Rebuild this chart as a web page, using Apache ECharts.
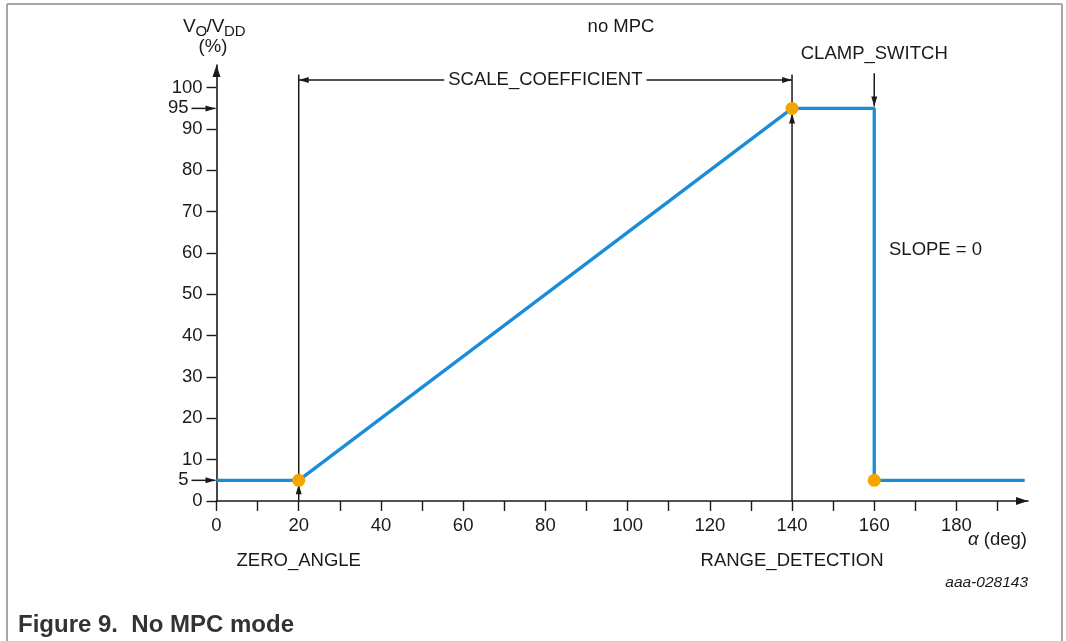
<!DOCTYPE html>
<html>
<head>
<meta charset="utf-8">
<script src="https://cdn.jsdelivr.net/npm/echarts@6/dist/echarts.min.js"></script>
<style>
  html, body { margin: 0; padding: 0; background: #fff; }
  #chart { width: 1066px; height: 641px; }
</style>
</head>
<body>
<div id="chart"></div>
<script>
// Output transfer curve in no-MPC mode: angle (deg) vs VO/VDD (%)
const angleDeg  = [0, 20, 140, 160, 160, 196.6];
const outputPct = [5, 5, 95, 95, 5, 5];

// Characteristic points (zero angle, range detection, clamp switch)
const markerAngle = [20, 140, 160];
const markerPct   = [5, 95, 5];

// Axis ticks and labels
const xTickValues  = [0, 10, 20, 30, 40, 50, 60, 70, 80, 90, 100, 110, 120, 130, 140, 150, 160, 170, 180, 190];
const xLabelValues = [0, 20, 40, 60, 80, 100, 120, 140, 160, 180];
const yTickValues  = [0, 10, 20, 30, 40, 50, 60, 70, 80, 90, 100];
const ySideValues  = [5, 95];

// Parameter annotations
const zeroAngle = 20;
const rangeDetection = 140;
const clampSwitch = 160;
const scaleMid = 80;
const bracketLevel = 101.9;
const guideTop = 103.2;

const FONT = '"Liberation Sans", Arial, Helvetica, sans-serif';
const INK = '#1a1a1a';
const BLUE = '#1a8cd8';
const ORANGE = '#f5a500';

const chart = echarts.init(document.getElementById('chart'), null, { renderer: 'canvas' });

const linePoints = angleDeg.map((a, i) => [a, outputPct[i]]);
const markerPoints = markerAngle.map((a, i) => [a, markerPct[i]]);

chart.setOption({
  animation: false,
  backgroundColor: '#fff',
  textStyle: { fontFamily: FONT },
  grid: { left: 216.5, right: 38, top: 65, bottom: 140, containLabel: false, outerBoundsMode: 'none' },
  xAxis: {
    type: 'value',
    min: 0,
    max: 197.4,
    splitLine: { show: false },
    axisLine: {
      show: true,
      onZero: false,
      symbol: ['none', 'triangle'],
      symbolSize: [8, 12],
      symbolOffset: [0, -6],
      lineStyle: { color: INK, width: 1.6 }
    },
    axisTick: { show: true, customValues: xTickValues, length: 10, lineStyle: { color: INK, width: 1.4 } },
    axisLabel: {
      customValues: xLabelValues,
      margin: 15,
      fontSize: 18.5,
      color: INK,
      fontFamily: FONT
    }
  },
  yAxis: {
    type: 'value',
    min: 0,
    max: 105.5,
    splitLine: { show: false },
    axisLine: {
      show: true,
      onZero: false,
      symbol: ['none', 'triangle'],
      symbolSize: [8, 12],
      symbolOffset: [0, -6],
      lineStyle: { color: INK, width: 1.6 }
    },
    axisTick: { show: true, customValues: yTickValues, length: 10, lineStyle: { color: INK, width: 1.4 } },
    axisLabel: {
      customValues: yTickValues,
      margin: 14,
      fontSize: 18.5,
      color: INK,
      fontFamily: FONT
    }
  },
  series: [
    {
      type: 'line',
      data: linePoints,
      showSymbol: false,
      symbol: 'none',
      lineStyle: { color: BLUE, width: 3.3 },
      z: 3
    },
    {
      type: 'scatter',
      data: markerPoints,
      symbolSize: 13,
      itemStyle: { color: ORANGE, opacity: 1 },
      z: 5
    }
  ]
});

// ---- annotations placed through the axis scales ----
const P = (x, y) => chart.convertToPixel({ gridIndex: 0 }, [x, y]);
const G = [];
const HEAD_L = 10, HEAD_W = 3;

function seg(x1, y1, x2, y2) {
  G.push({ type: 'line', z: 1, shape: { x1, y1, x2, y2 }, style: { stroke: INK, lineWidth: 1.5 } });
}
function head(tx, ty, fx, fy) {
  // filled arrow head with tip at (tx,ty), pointing away from (fx,fy)
  const dx = tx - fx, dy = ty - fy, len = Math.hypot(dx, dy) || 1;
  const ux = dx / len, uy = dy / len;
  const bx = tx - ux * HEAD_L, by = ty - uy * HEAD_L;
  G.push({
    type: 'polygon', z: 1,
    shape: { points: [[tx, ty], [bx - uy * HEAD_W, by + ux * HEAD_W], [bx + uy * HEAD_W, by - ux * HEAD_W]] },
    style: { fill: INK }
  });
}
function arrow(x1, y1, x2, y2, both) {
  seg(x1, y1, x2, y2);
  head(x2, y2, x1, y1);
  if (both) head(x1, y1, x2, y2);
}
function text(x, y, str, opts) {
  const o = Object.assign({ size: 18.5, align: 'center', valign: 'middle', color: INK, weight: 'normal', style: 'normal' }, opts || {});
  G.push({
    type: 'text', z: 2, x, y,
    style: Object.assign({
      text: str,
      fill: o.color,
      fontSize: o.size,
      fontFamily: FONT,
      fontWeight: o.weight,
      fontStyle: o.style,
      align: o.align,
      verticalAlign: o.valign,
      textAlign: o.align,
      textVerticalAlign: o.valign
    }, o.extra || {})
  });
}

const origin = P(0, 0);
const axisX = origin[0], axisY = origin[1];

// zero-angle guide and pointer
const z0 = P(zeroAngle, markerPct[0]);
seg(z0[0], P(zeroAngle, guideTop)[1], z0[0], z0[1]);
arrow(z0[0], axisY, z0[0], z0[1] + 4);

// range-detection guide and pointer
const r0 = P(rangeDetection, markerPct[1]);
seg(r0[0], P(rangeDetection, guideTop)[1], r0[0], r0[1]);
arrow(r0[0], axisY, r0[0], r0[1] + 5);

// scale coefficient span
const by = P(0, bracketLevel)[1];
arrow(z0[0], by, r0[0], by, true);
const sm = P(scaleMid, bracketLevel);
text(sm[0], by, 'SCALE_COEFFICIENT', { extra: { backgroundColor: '#fff', padding: [2, 4, 2, 4] } });

// clamp switch pointer
const c0 = P(clampSwitch, outputPct[3]);
arrow(c0[0], P(clampSwitch, guideTop + 0.3)[1], c0[0], c0[1] - 2);
text(c0[0], 54, 'CLAMP_SWITCH');

// side marks on the output axis
ySideValues.forEach(v => {
  const p = P(0, v);
  arrow(axisX - 25, p[1], axisX - 1, p[1]);
  text(axisX - 28, p[1], String(v), { align: 'right' });
});

// free labels
text(621, 27, 'no MPC');
text(889, 250, 'SLOPE = 0', { align: 'left' });
text(z0[0], 561, 'ZERO_ANGLE');
text(r0[0], 561, 'RANGE_DETECTION');
text(1027, 540, '{i|α} (deg)', { align: 'right', extra: { rich: { i: { fontStyle: 'italic', fontSize: 18.5, fontFamily: FONT, fill: INK, color: INK } } } });
text(1028, 583, 'aaa-028143', { align: 'right', size: 15.5, style: 'italic' });

// output axis name VO/VDD (%)
text(183, 27, 'V', { align: 'left', size: 19 });
text(195.5, 32, 'O', { align: 'left', size: 15 });
text(206.5, 27, '/V', { align: 'left', size: 19 });
text(224, 32, 'DD', { align: 'left', size: 15 });
text(213, 47, '(%)', { size: 18.5 });

// figure caption
text(18, 625, 'Figure 9.  No MPC mode', { align: 'left', size: 24, weight: 'bold', color: '#333' });

// figure frame
G.push({ type: 'line', z: 0, shape: { x1: 7, y1: 4, x2: 1062, y2: 4 }, style: { stroke: '#a6a6a6', lineWidth: 2 } });
G.push({ type: 'line', z: 0, shape: { x1: 7, y1: 4, x2: 7, y2: 641 }, style: { stroke: '#a6a6a6', lineWidth: 2 } });
G.push({ type: 'line', z: 0, shape: { x1: 1062, y1: 4, x2: 1062, y2: 641 }, style: { stroke: '#a6a6a6', lineWidth: 2 } });

chart.setOption({ graphic: { elements: G } });
</script>
</body>
</html>
